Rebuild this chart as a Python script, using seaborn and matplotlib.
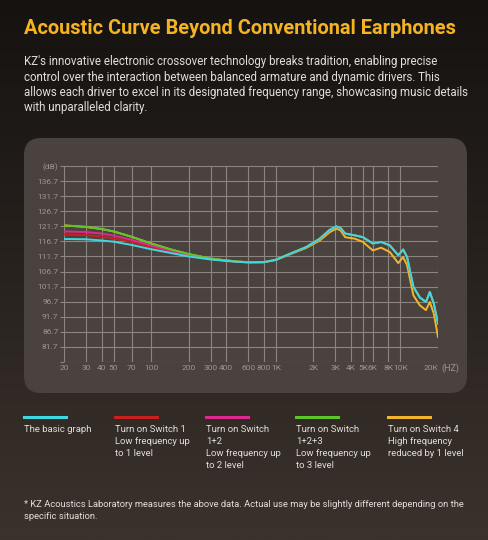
import numpy as np
import pandas as pd
import seaborn as sns
import matplotlib.pyplot as plt
from matplotlib.patches import FancyBboxPatch

# frequency points (Hz)
freq_low = [20, 30, 40, 50, 70, 100, 150, 200, 300, 400, 500, 600, 800]
freq_high = [1000, 1300, 1750, 2250, 2700, 3050, 3300, 3600, 4300, 5000, 6000,
             7000, 8200, 9600, 10500, 11300, 12700, 14300, 16000, 17200, 18500, 20000]

# low end per switch setting (dB)
basic_low = [117.5, 117.4, 117.0, 116.6, 115.5, 114.1, 112.7, 111.7, 110.7, 110.2, 109.9, 109.7, 109.8]
switch1_low = [119.0, 118.8, 118.3, 117.7, 116.5, 114.8, 113.1, 112.0, 110.8, 110.2, 109.9, 109.7, 109.8]
switch12_low = [120.0, 119.8, 119.3, 118.6, 117.2, 115.3, 113.4, 112.2, 110.9, 110.3, 110.0, 109.8, 109.8]
switch123_low = [122.0, 121.5, 120.8, 120.0, 118.2, 116.0, 113.8, 112.5, 111.0, 110.4, 110.0, 109.8, 109.8]

# high end
basic_high = [110.6, 112.6, 114.8, 117.6, 120.5, 121.7, 121.2, 119.3, 118.7, 118.1, 116.0,
              116.5, 115.4, 112.1, 114.0, 111.5, 101.6, 98.1, 96.6, 99.9, 96.1, 89.4]
switch4_high = [110.5, 112.4, 114.5, 117.0, 119.7, 120.9, 120.4, 118.1, 117.6, 116.5, 113.7,
                114.6, 113.2, 109.5, 111.5, 108.8, 98.8, 95.5, 93.9, 96.6, 92.8, 85.0]

names = ["The basic graph", "Turn on Switch 1", "Turn on Switch 1+2",
         "Turn on Switch 1+2+3", "Turn on Switch 4"]
legend_text = ["The basic graph",
               "Turn on Switch 1\nLow frequency up\nto 1 level",
               "Turn on Switch\n1+2\nLow frequency up\nto 2 level",
               "Turn on Switch\n1+2+3\nLow frequency up\nto 3 level",
               "Turn on Switch 4\nHigh frequency\nreduced by 1 level"]
colors = ["#3fd8e2", "#c8201e", "#dc2a90", "#5cc52a", "#f2b52e"]

curves = {
    names[0]: basic_low + basic_high,
    names[1]: switch1_low + basic_high,
    names[2]: switch12_low + basic_high,
    names[3]: switch123_low + basic_high,
    names[4]: switch123_low + switch4_high,
}
freq = freq_low + freq_high
rows = []
for n, vals in curves.items():
    for f, v in zip(freq, vals):
        rows.append({"freq": f, "db": v, "curve": n})
df = pd.DataFrame(rows)

W, H = 488, 540
fig = plt.figure(figsize=(W / 100, H / 100), dpi=100)
plt.rcParams['font.family'] = ['Roboto', 'DejaVu Sans']

# background gradient
bg = fig.add_axes([0, 0, 1, 1], zorder=-2)
grad = np.linspace(0, 1, 256).reshape(-1, 1)
c_top = np.array([0x15, 0x12, 0x10]) / 255
c_bot = np.array([0x3b, 0x32, 0x2c]) / 255
img = c_top + (c_bot - c_top) * grad[:, :, None]
bg.imshow(img, aspect='auto', extent=[0, 1, 0, 1])
bg.axis('off')

# rounded panel
panel = FancyBboxPatch((24 / W, 1 - 393 / H), 443 / W, 255 / H,
                       boxstyle="round,pad=0,rounding_size=0.035",
                       transform=fig.transFigure, facecolor="#4a423e",
                       edgecolor="none", zorder=-1, mutation_aspect=W / H)
fig.patches.append(panel)

def px(x, y):
    return x / W, 1 - y / H

fig.text(*px(24, 28), "Acoustic Curve Beyond Conventional Earphones",
         color="#f5b321", fontsize=14.4, fontweight='bold', va='center')
body = ("KZ's innovative electronic crossover technology breaks tradition, enabling precise\n"
        "control over the interaction between balanced armature and dynamic drivers. This\n"
        "allows each driver to excel in its designated frequency range, showcasing music details\n"
        "with unparalleled clarity.")
fig.text(*px(24, 55), body, color="#e2dedb", fontsize=8.3, va='top', linespacing=1.25)

ax = fig.add_axes([64 / W, 1 - 362 / H, 374 / W, 196 / H])
ax.set_facecolor("none")
sns.lineplot(data=df, x="freq", y="db", hue="curve",
             hue_order=[names[4], names[1], names[2], names[3], names[0]],
             palette=dict(zip(names, colors)), estimator=None, sort=False,
             linewidth=1.4, legend=False, ax=ax)
ax.set_xscale('log')
ax.set_xlim(20, 20000)
ax.set_ylim(76.7, 141.7)
xt = [20, 30, 40, 50, 70, 100, 200, 300, 400, 600, 800, 1000, 2000, 3000, 4000, 5000, 6000, 8000, 10000, 20000]
xl = ["20", "30", "40", "50", "70", "100", "200", "300", "400", "600", "800", "1K",
      "2K", "3K", "4K", "5K", "6K", "8K", "10K", "20K"]
ax.set_xticks(xt)
ax.set_xticklabels(xl)
ax.minorticks_off()
yt = [76.7 + 5 * i for i in range(14)]
ax.set_yticks(yt)
ax.set_yticklabels([""] + ["%.1f" % v for v in yt[1:-1]] + ["(dB)"])
ax.grid(True, color="#8c8580", linewidth=0.8)
ax.set_axisbelow(True)
for s in ax.spines.values():
    s.set_visible(False)
ax.tick_params(axis='both', colors="#8c8580", labelcolor="#9c9591", labelsize=6,
               length=3, width=0.8, pad=1)
ax.tick_params(axis='x', length=0, pad=2)
ax.get_xticklabels()[-1].set_horizontalalignment('right')
ax.set_xlabel("")
ax.set_ylabel("")
fig.text(*px(441, 368), "(HZ)", color="#9c9591", fontsize=6.5, va='center', ha='left')

# legend
lx = [24, 115, 206, 296, 388]
for x, c, t in zip(lx, colors, legend_text):
    fig.add_artist(plt.Line2D([x / W, (x + 42) / W], [1 - 417 / H] * 2, color=c,
                              linewidth=2.2, transform=fig.transFigure))
    fig.text(*px(x, 425), t, color="#e2dedb", fontsize=6.8, va='top', linespacing=1.45)

fig.text(*px(24, 500), "* KZ Acoustics Laboratory measures the above data. Actual use may be slightly different depending on the\nspecific situation.",
         color="#e2dedb", fontsize=6.75, va='top', linespacing=1.45)

fig.savefig("out.png", dpi=100)
